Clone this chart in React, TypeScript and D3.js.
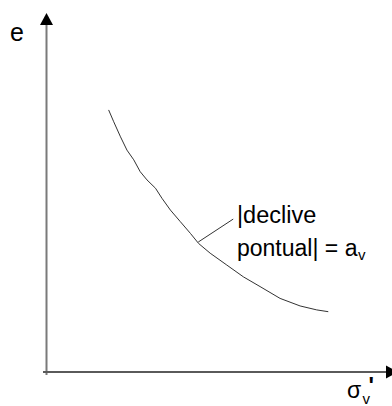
import React from "react";
import * as d3 from "d3";

const W = 392;
const H = 406;

// Curve e vs sigma'_v (arbitrary units)
const sigmaValues = [1.83, 1.98, 2.18, 2.37, 2.57, 2.76, 2.96, 3.21, 3.4, 3.65, 3.94, 4.24, 4.48, 4.82, 5.31, 5.8, 6.29, 6.88, 7.47, 7.96, 8.3];
const eValues = [7.3, 6.97, 6.55, 6.18, 5.91, 5.58, 5.35, 5.12, 4.84, 4.51, 4.19, 3.86, 3.58, 3.31, 2.98, 2.65, 2.38, 2.05, 1.84, 1.73, 1.68];

// Annotation leader line (tangent point -> label)
const leaderX = [4.47, 5.5];
const leaderY = [3.62, 4.26];

const labelLine1 = "|declive";
const labelLine2 = "pontual| = a";
const labelSub = "v";
const yLabel = "e";
const xLabel = "σ";
const xPrime = "'";

export default function App() {
  const x = d3.scaleLinear().domain([0, 10]).range([46.5, 386]);
  const y = d3.scaleLinear().domain([0, 10]).range([372, 13]);

  const pts: [number, number][] = sigmaValues.map((s, i) => [s, eValues[i]]);
  const line = d3
    .line<[number, number]>()
    .x((d) => x(d[0]))
    .y((d) => y(d[1]))
    .curve(d3.curveLinear);

  const font = "Arial, 'Liberation Sans', sans-serif";
  const ax = x(0);
  const ay = y(0);

  return (
    <svg
      width={W}
      height={H}
      style={{ position: "absolute", left: 0, top: 0, background: "#fff" }}
    >
      {/* y axis */}
      <line x1={ax} y1={375} x2={ax} y2={24} stroke="#7a7a7a" strokeWidth={2} />
      <polygon
        points={`${ax},${13} ${ax - 6.5},${25} ${ax + 6.5},${25}`}
        fill="#000"
      />
      {/* x axis */}
      <line x1={43} y1={ay} x2={387} y2={ay} stroke="#5a5a5a" strokeWidth={2} />
      <polygon
        points={`${x(10) + 12},${ay} ${x(10)},${ay - 6.5} ${x(10)},${ay + 6.5}`}
        fill="#000"
      />

      {/* curve */}
      <path d={line(pts) || ""} fill="none" stroke="#333" strokeWidth={1} />

      {/* leader */}
      <line
        x1={x(leaderX[0])}
        y1={y(leaderY[0])}
        x2={x(leaderX[1])}
        y2={y(leaderY[1])}
        stroke="#333"
        strokeWidth={1}
      />

      <text x={237} y={223} fontFamily={font} fontSize={23.5} fill="#000">
        {labelLine1}
      </text>
      <text x={237} y={256} fontFamily={font} fontSize={23} fill="#000">
        {labelLine2}
        <tspan fontSize={15} dx={0.5} dy={4}>
          {labelSub}
        </tspan>
      </text>

      <text x={10} y={41} fontFamily={font} fontSize={25} fill="#000">
        {yLabel}
      </text>

      <text x={347} y={398} fontFamily={font} fontSize={23} fill="#000">
        {xLabel}
      </text>
      <text x={362.5} y={404} fontFamily={font} fontSize={15} fill="#000">
        {labelSub}
      </text>
      <text x={368.5} y={394} fontFamily={font} fontSize={23} fontWeight="bold" fill="#000">
        {xPrime}
      </text>
    </svg>
  );
}
